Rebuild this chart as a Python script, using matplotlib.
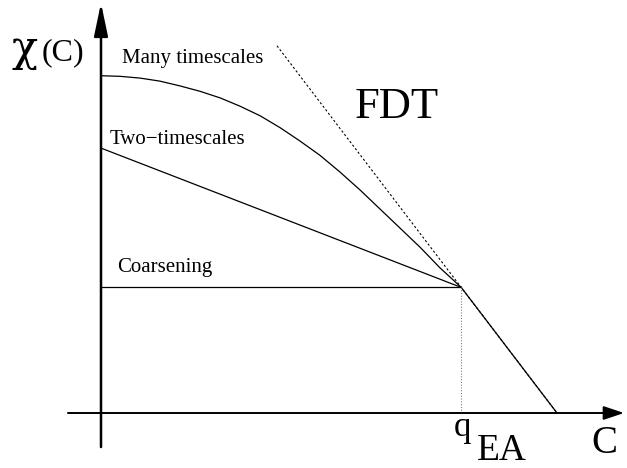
import matplotlib.pyplot as plt

# schematic chi(C) plot, units: C in [0,1], FDT line chi = 1 - C (T = 1)
q_ea = 0.79
chi_coarse = 0.21
chi_two_start = 0.443

# "many timescales" curve
c_many = [0.0, 0.042, 0.086, 0.129, 0.173, 0.217, 0.261, 0.305, 0.349, 0.393,
          0.436, 0.480, 0.524, 0.568, 0.612, 0.656, 0.700, 0.743, 0.790]
chi_many = [0.564, 0.563, 0.560, 0.555, 0.547, 0.538, 0.527, 0.513, 0.497, 0.477,
            0.455, 0.431, 0.403, 0.373, 0.341, 0.309, 0.277, 0.243, 0.210]

# FDT line end points
c_fdt = [0.386, 1.0]
chi_fdt = [0.614, 0.0]

W, H = 627, 468
fig = plt.figure(figsize=(W / 100, H / 100), dpi=100)
ax = fig.add_axes([0, 0, 1, 1])
ax.set_xlim(-101 / 456, 526 / 456)
ax.set_ylim(-55 / 598, 413 / 598)
ax.axis('off')


def px(x, y):
    # pixel position in the picture -> data coords
    return (x - 101) / 456, (413 - y) / 598


serif = 'Liberation Serif'

# axes with arrows
ax.annotate('', xy=(0, 0.6856), xytext=(0, -0.0569),
            arrowprops=dict(arrowstyle='-|>,head_length=2.0,head_width=0.42',
                            mutation_scale=10, lw=1.8, color='black', shrinkA=0, shrinkB=0))
ax.annotate('', xy=(1.147, 0), xytext=(-0.0724, 0),
            arrowprops=dict(arrowstyle='-|>,head_length=1.25,head_width=0.42',
                            mutation_scale=10, lw=1.4, color='black', shrinkA=0, shrinkB=0))

# curves
ax.plot([0, q_ea], [chi_coarse, chi_coarse], color='black', lw=0.9)
ax.plot([0, q_ea], [chi_two_start, chi_coarse], color='black', lw=0.9)
ax.plot(c_many, chi_many, color='black', lw=0.9)
ax.plot(c_fdt, chi_fdt, color='black', lw=0.8, ls=(0, (2, 2)))
ax.plot([q_ea, 1.0], [chi_coarse, 0], color='black', lw=0.9)
ax.plot([q_ea, q_ea], [0, chi_coarse], color='gray', lw=0.8, ls=(0, (1, 1.5)))

# labels
ax.text(*px(11, 61), 'χ', fontsize=31, family='DejaVu Serif')
ax.text(*px(42, 60), '(C)', fontsize=23, family=serif)
ax.text(*px(122, 63), 'Many timescales', fontsize=15, family=serif)
ax.text(*px(110, 144), 'Two−timescales', fontsize=15, family=serif)
ax.text(*px(117, 272), 'Coarsening', fontsize=15, family=serif)
ax.text(*px(355, 118), 'FDT', fontsize=32, family=serif)
ax.text(*px(454, 436), 'q', fontsize=25, family=serif)
ax.text(*px(477, 460), 'EA', fontsize=27, family=serif)
ax.text(*px(591, 453), 'C', fontsize=28, family=serif)

fig.savefig('out.png', dpi=100)
